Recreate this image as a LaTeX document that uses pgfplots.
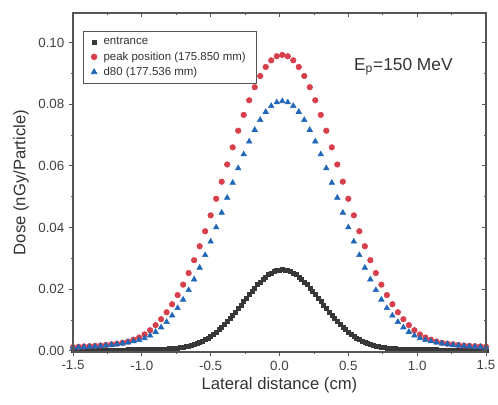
\documentclass[border=0pt]{standalone}
\usepackage{fontspec}
\setmainfont{Liberation Sans}
\usepackage{pgfplots}
\usepackage{pgfplotstable}
\pgfplotsset{compat=1.18}
\definecolor{redc}{HTML}{D63F4B}
\definecolor{bluec}{HTML}{2167B8}
\definecolor{blackc}{HTML}{383838}
\definecolor{framec}{HTML}{555555}

\pgfplotstableread{
x y
-1.50 0.00025
-1.48 0.00025
-1.46 0.00025
-1.44 0.00025
-1.42 0.00026
-1.40 0.00026
-1.38 0.00026
-1.36 0.00026
-1.34 0.00027
-1.32 0.00027
-1.30 0.00027
-1.28 0.00028
-1.26 0.00028
-1.24 0.00028
-1.22 0.00029
-1.20 0.00029
-1.18 0.00030
-1.16 0.00030
-1.14 0.00031
-1.12 0.00032
-1.10 0.00033
-1.08 0.00034
-1.06 0.00035
-1.04 0.00036
-1.02 0.00037
-1.00 0.00038
-0.98 0.00039
-0.96 0.00041
-0.94 0.00043
-0.92 0.00045
-0.90 0.00047
-0.88 0.00050
-0.86 0.00053
-0.84 0.00057
-0.82 0.00061
-0.80 0.00066
-0.78 0.00072
-0.76 0.00080
-0.74 0.00089
-0.72 0.00100
-0.70 0.00114
-0.68 0.00131
-0.66 0.00152
-0.64 0.00177
-0.62 0.00206
-0.60 0.00239
-0.58 0.00276
-0.56 0.00319
-0.54 0.00366
-0.52 0.00418
-0.50 0.00475
-0.48 0.00540
-0.46 0.00612
-0.44 0.00689
-0.42 0.00772
-0.40 0.00861
-0.38 0.00955
-0.36 0.01054
-0.34 0.01158
-0.32 0.01265
-0.30 0.01376
-0.28 0.01488
-0.26 0.01601
-0.24 0.01715
-0.22 0.01827
-0.20 0.01936
-0.18 0.02042
-0.16 0.02142
-0.14 0.02237
-0.12 0.02323
-0.10 0.02401
-0.08 0.02469
-0.06 0.02526
-0.04 0.02571
-0.02 0.02603
0.00 0.02623
0.02 0.02630
0.04 0.02623
0.06 0.02603
0.08 0.02571
0.10 0.02526
0.12 0.02469
0.14 0.02401
0.16 0.02323
0.18 0.02237
0.20 0.02142
0.22 0.02042
0.24 0.01936
0.26 0.01827
0.28 0.01715
0.30 0.01601
0.32 0.01488
0.34 0.01376
0.36 0.01265
0.38 0.01158
0.40 0.01054
0.42 0.00955
0.44 0.00861
0.46 0.00772
0.48 0.00689
0.50 0.00612
0.52 0.00540
0.54 0.00475
0.56 0.00418
0.58 0.00366
0.60 0.00319
0.62 0.00276
0.64 0.00239
0.66 0.00206
0.68 0.00177
0.70 0.00152
0.72 0.00131
0.74 0.00114
0.76 0.00100
0.78 0.00089
0.80 0.00080
0.82 0.00072
0.84 0.00066
0.86 0.00061
0.88 0.00057
0.90 0.00053
0.92 0.00050
0.94 0.00047
0.96 0.00045
0.98 0.00043
1.00 0.00041
1.02 0.00039
1.04 0.00038
1.06 0.00037
1.08 0.00036
1.10 0.00035
1.12 0.00034
1.14 0.00033
1.16 0.00032
1.18 0.00031
1.20 0.00030
1.22 0.00030
1.24 0.00029
1.26 0.00029
1.28 0.00028
1.30 0.00028
1.32 0.00028
1.34 0.00027
1.36 0.00027
1.38 0.00027
1.40 0.00026
1.42 0.00026
1.44 0.00026
1.46 0.00026
1.48 0.00025
1.50 0.00025
}\entrance

\pgfplotstableread{
x y
-1.50 0.00120
-1.46 0.00130
-1.42 0.00140
-1.38 0.00150
-1.34 0.00160
-1.30 0.00170
-1.26 0.00190
-1.22 0.00210
-1.18 0.00230
-1.14 0.00260
-1.10 0.00300
-1.06 0.00360
-1.02 0.00430
-0.98 0.00530
-0.94 0.00666
-0.90 0.00832
-0.86 0.01024
-0.82 0.01249
-0.78 0.01510
-0.74 0.01808
-0.70 0.02146
-0.66 0.02523
-0.62 0.02939
-0.58 0.03391
-0.54 0.03878
-0.50 0.04394
-0.46 0.04933
-0.42 0.05486
-0.38 0.06045
-0.34 0.06601
-0.30 0.07141
-0.26 0.07654
-0.22 0.08128
-0.18 0.08552
-0.14 0.08915
-0.10 0.09209
-0.06 0.09424
-0.02 0.09556
0.02 0.09600
0.06 0.09556
0.10 0.09424
0.14 0.09209
0.18 0.08915
0.22 0.08552
0.26 0.08128
0.30 0.07654
0.34 0.07141
0.38 0.06601
0.42 0.06045
0.46 0.05486
0.50 0.04933
0.54 0.04394
0.58 0.03878
0.62 0.03391
0.66 0.02939
0.70 0.02523
0.74 0.02146
0.78 0.01808
0.82 0.01510
0.86 0.01249
0.90 0.01024
0.94 0.00832
0.98 0.00666
1.02 0.00530
1.06 0.00430
1.10 0.00360
1.14 0.00300
1.18 0.00260
1.22 0.00230
1.26 0.00210
1.30 0.00190
1.34 0.00170
1.38 0.00160
1.42 0.00150
1.46 0.00140
1.50 0.00130
}\peak

\pgfplotstableread{
x y
-1.50 0.00102
-1.46 0.00110
-1.42 0.00118
-1.38 0.00128
-1.34 0.00140
-1.30 0.00154
-1.26 0.00170
-1.22 0.00190
-1.18 0.00212
-1.14 0.00238
-1.10 0.00268
-1.06 0.00305
-1.02 0.00350
-0.98 0.00410
-0.94 0.00495
-0.90 0.00612
-0.86 0.00759
-0.82 0.00936
-0.78 0.01144
-0.74 0.01385
-0.70 0.01659
-0.66 0.01969
-0.62 0.02315
-0.58 0.02694
-0.54 0.03104
-0.50 0.03543
-0.46 0.04004
-0.42 0.04481
-0.38 0.04966
-0.34 0.05450
-0.30 0.05922
-0.26 0.06373
-0.22 0.06792
-0.18 0.07167
-0.14 0.07490
-0.10 0.07751
-0.06 0.07943
-0.02 0.08060
0.02 0.08100
0.06 0.08060
0.10 0.07943
0.14 0.07751
0.18 0.07490
0.22 0.07167
0.26 0.06792
0.30 0.06373
0.34 0.05922
0.38 0.05450
0.42 0.04966
0.46 0.04481
0.50 0.04004
0.54 0.03543
0.58 0.03104
0.62 0.02694
0.66 0.02315
0.70 0.01969
0.74 0.01659
0.78 0.01385
0.82 0.01144
0.86 0.00936
0.90 0.00759
0.94 0.00612
0.98 0.00495
1.02 0.00410
1.06 0.00350
1.10 0.00305
1.14 0.00268
1.18 0.00238
1.22 0.00212
1.26 0.00190
1.30 0.00170
1.34 0.00154
1.38 0.00140
1.42 0.00128
1.46 0.00118
1.50 0.00110
}\deighty

\begin{document}
\begin{tikzpicture}
\pgfplotsset{
  common/.style={
    scale only axis,
    width=309.75pt, height=254.25pt,
    xmin=-1.5, xmax=1.5, ymin=-0.0004, ymax=0.1096,
    xtick={-1.5,-1,-0.5,0,0.5,1,1.5},
    ytick={0,0.02,0.04,0.06,0.08,0.10},
    minor x tick num=1, minor y tick num=1,
    scaled y ticks=false, scaled x ticks=false,
    major tick length=3pt, minor tick length=1.6pt,
    tick style={framec, line width=0.6pt},
    axis line style={framec, line width=0.8pt},
  }
}
\begin{axis}[common, name=ax,
    tick align=outside, xtick pos=bottom, ytick pos=left,
    /pgf/number format/assume math mode=true,
    xticklabel style={font=\fontsize{10}{12}\selectfont, text=black!75, /pgf/number format/.cd, fixed, fixed zerofill, precision=1},
    yticklabel style={font=\fontsize{10}{12}\selectfont, text=black!75, /pgf/number format/.cd, fixed, fixed zerofill, precision=2},
    xlabel={Lateral distance (cm)},
    ylabel={Dose (nGy/Particle)},
    label style={font=\fontsize{12.5}{14}\selectfont, text=black!80},
    xlabel style={at={(axis description cs:0.5,0)}, anchor=center, yshift=-25pt},
    ylabel style={at={(axis description cs:0,0.5)}, anchor=center, yshift=39pt},
    legend style={at={(rel axis cs:0.024,0.947)}, anchor=north west,
      font=\fontsize{8.6}{10}\selectfont, draw=framec, line width=0.6pt,
      inner xsep=6pt, inner ysep=2.5pt, row sep=-0.3pt, column sep=3pt, text=black!80},
    legend cell align=left,
]
\addplot[only marks, mark=square*, mark size=1.5pt, mark options={draw=blackc, fill=blackc}] table[x=x,y=y] {\entrance};
\addlegendentry{entrance}
\addplot[only marks, mark=*, mark size=2.1pt, mark options={draw=redc, fill=redc}] table[x=x,y=y] {\peak};
\addlegendentry{peak position (175.850 mm)}
\addplot[only marks, mark=triangle*, mark size=2.4pt, mark options={draw=bluec, fill=bluec}] table[x=x,y=y] {\deighty};
\addlegendentry{d80 (177.536 mm)}
\node[font=\fontsize{13}{15}\selectfont, text=black!80] at (axis cs:0.9,0.0921) {E\textsubscript{p}=150 MeV};
\end{axis}
\begin{axis}[common, at={(ax.south west)}, anchor=south west,
    tick align=inside, xtick pos=top, ytick pos=right,
    xticklabels={}, yticklabels={}]
\end{axis}
\pgfresetboundingbox
\path[use as bounding box] ([shift={(-54.75pt,-39pt)}]ax.south west) rectangle ([shift={(9pt,9.75pt)}]ax.north east);
\end{tikzpicture}
\end{document}
